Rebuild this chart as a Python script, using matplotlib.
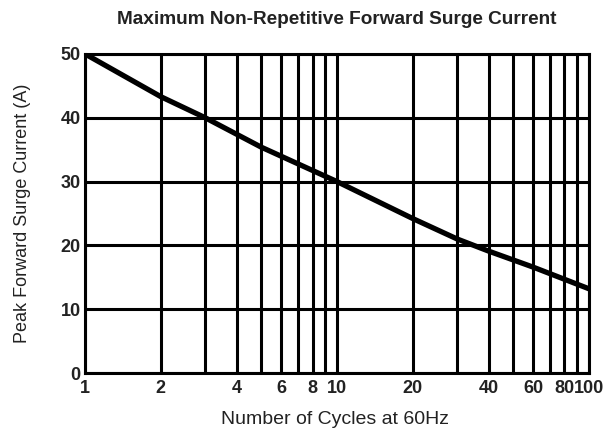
import matplotlib
matplotlib.use('Agg')
import matplotlib.pyplot as plt
from matplotlib.ticker import FixedLocator, NullLocator

# curve
cycles = [1, 2, 3, 5, 10, 20, 30, 40, 60, 100]
current = [50, 43.3, 40, 35.4, 30, 24.2, 21, 19.1, 16.6, 13.2]

grid_x = [1, 2, 3, 4, 5, 6, 7, 8, 9, 10, 20, 30, 40, 50, 60, 70, 80, 90, 100]
x_ticks = [1, 2, 4, 6, 8, 10, 20, 40, 60, 80, 100]
y_ticks = [0, 10, 20, 30, 40, 50]

fig = plt.figure(figsize=(6.09, 4.28), dpi=100)
ax = fig.add_axes([0.1396, 0.1285, 0.8274, 0.7455])

ax.set_xscale('log')
ax.set_xlim(1, 100)
ax.set_ylim(0, 50)

for gx in grid_x:
    ax.axvline(gx, color='black', lw=2.2, zorder=1)
for gy in y_ticks:
    ax.axhline(gy, color='black', lw=2.2, zorder=1)

ax.plot(cycles, current, color='black', lw=3.8, solid_capstyle='butt', zorder=3)

for s in ax.spines.values():
    s.set_linewidth(2.2)

tick_font = dict(family=['Liberation Sans Narrow', 'Liberation Sans', 'DejaVu Sans'], size=13, weight='bold', color='#222222')
ax.xaxis.set_major_locator(FixedLocator(x_ticks))
ax.xaxis.set_minor_locator(NullLocator())
ax.set_xticklabels([str(v) for v in x_ticks], **tick_font)
ax.set_yticks(y_ticks)
ax.set_yticklabels([str(v) for v in y_ticks], **tick_font)
ax.tick_params(axis='x', length=0, pad=5)
ax.tick_params(axis='y', length=0, pad=3)

xl = ax.set_xlabel('Number of Cycles at 60Hz', family='Liberation Sans', size=14, color='#222222', va='center')
ax.xaxis.set_label_coords(0.497, -0.147)
yl = ax.set_ylabel('Peak Forward Surge Current (A)', family='Liberation Sans', size=13, color='#222222', va='center')
ax.yaxis.set_label_coords(-0.125, 0.5)
fig.text(337 / 609, 1 - 20 / 428, 'Maximum Non-Repetitive Forward Surge Current', ha='center', va='center',
         family='Liberation Sans', size=13.7, weight='bold', color='#222222')

plt.savefig('out.png', dpi=100)
